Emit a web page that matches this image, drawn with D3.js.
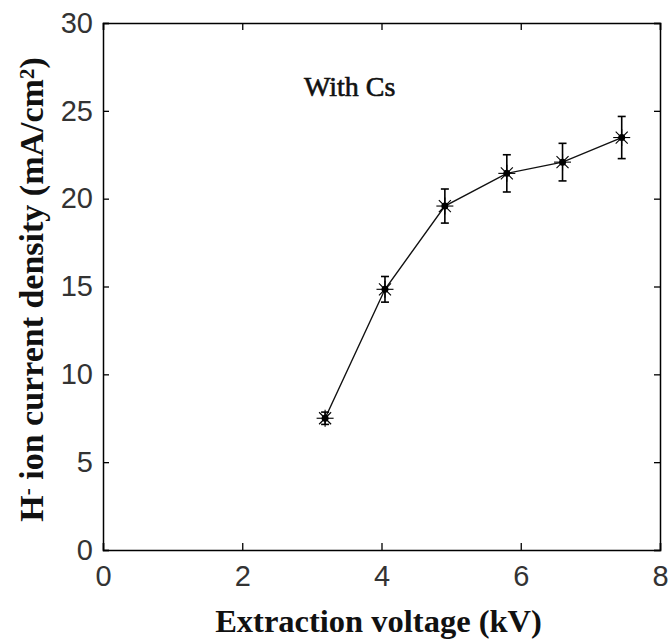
<!DOCTYPE html>
<html><head><meta charset="utf-8">
<script src="https://cdn.jsdelivr.net/npm/d3@7"></script>
<style>body{margin:0;background:#fff}</style>
</head><body>
<svg id="c" width="668" height="639"></svg>
<script>
const voltage = [3.19, 4.05, 4.91, 5.80, 6.60, 7.45];
const density = [7.5, 14.84, 19.58, 21.44, 22.08, 23.48];
const errorBar = [0.35, 0.73, 0.97, 1.06, 1.07, 1.2];
const xTicks = [0, 2, 4, 6, 8];
const yTicks = [0, 5, 10, 15, 20, 25, 30];

const svg = d3.select("#c");
const L = 103, R = 660, T = 23, B = 550;
const x = d3.scaleLinear().domain([0, 8]).range([L, R]);
const y = d3.scaleLinear().domain([0, 30]).range([B, T]);
const tickFont = "'Liberation Sans', Arial, sans-serif";
const serif = "'Liberation Serif', 'Times New Roman', serif";

// axes
const ax = svg.append("g").attr("transform", `translate(0,${B})`)
  .call(d3.axisBottom(x).tickValues(xTicks).tickSize(-7).tickPadding(15));
const ay = svg.append("g").attr("transform", `translate(${L},0)`)
  .call(d3.axisLeft(y).tickValues(yTicks).tickSize(-6).tickPadding(10));
const at = svg.append("g").attr("transform", `translate(0,${T})`)
  .call(d3.axisTop(x).tickValues(xTicks).tickSize(-7).tickFormat(""));
const ar = svg.append("g").attr("transform", `translate(${R},0)`)
  .call(d3.axisRight(y).tickValues(yTicks).tickSize(-6).tickFormat(""));
[ax, ay, at, ar].forEach(g => {
  g.select(".domain").attr("stroke", "#000").attr("stroke-width", 1.5);
  g.selectAll(".tick line").attr("stroke", "#000").attr("stroke-width", 1.3);
  g.selectAll(".tick text").attr("font-family", tickFont).attr("font-size", 29).attr("fill", "#333");
});
ax.selectAll(".tick text").attr("dy", "0.71em");

// line
const pts = voltage.map((v, i) => [v, density[i], errorBar[i]]);
svg.append("path").datum(pts)
  .attr("d", d3.line().x(d => x(d[0])).y(d => y(d[1])))
  .attr("fill", "none").attr("stroke", "#111").attr("stroke-width", 1.4);

// error bars
const eb = svg.append("g").attr("stroke", "#000").attr("stroke-width", 1.6);
pts.forEach(d => {
  const cx = x(d[0]);
  eb.append("line").attr("x1", cx).attr("x2", cx).attr("y1", y(d[1] - d[2])).attr("y2", y(d[1] + d[2]));
  [d[1] - d[2], d[1] + d[2]].forEach(v => {
    eb.append("line").attr("x1", cx - 4).attr("x2", cx + 4).attr("y1", y(v)).attr("y2", y(v));
  });
});

// asterisk markers
const mk = svg.append("g").attr("stroke", "#000");
pts.forEach(d => {
  const cx = x(d[0]), cy = y(d[1]), r = 8.5;
  const g = mk.append("g").attr("transform", `translate(${cx},${cy})`);
  [0, 45, 90, 135].forEach(a => {
    const rad = a * Math.PI / 180;
    g.append("line").attr("x1", -r * Math.cos(rad)).attr("y1", -r * Math.sin(rad))
      .attr("x2", r * Math.cos(rad)).attr("y2", r * Math.sin(rad)).attr("stroke-width", 1.1);
  });
  g.append("circle").attr("r", 3.5).attr("fill", "#000").attr("stroke", "none");
});

// annotation
svg.append("text").attr("x", 304).attr("y", 96).attr("font-family", serif)
  .attr("font-size", 28).attr("fill", "#111").attr("stroke", "#111").attr("stroke-width", 0.6)
  .text("With Cs");

// x label
svg.append("text").attr("x", (L + R) / 2 - 3).attr("y", 632).attr("text-anchor", "middle")
  .attr("font-family", serif).attr("font-weight", "bold").attr("font-size", 32.5).attr("fill", "#111")
  .text("Extraction voltage (kV)");

// y label
const yl = svg.append("text").attr("transform", `translate(43,${(T + B) / 2 + 3}) rotate(-90)`)
  .attr("text-anchor", "middle").attr("font-family", serif).attr("font-weight", "bold")
  .attr("font-size", 34).attr("fill", "#111");
yl.append("tspan").text("H");
yl.append("tspan").attr("font-size", 21).attr("baseline-shift", "45%").text("-");
yl.append("tspan").text(" ion current density (mA/cm");
yl.append("tspan").attr("font-size", 21).attr("baseline-shift", "45%").text("2");
yl.append("tspan").text(")");
</script>
</body></html>
